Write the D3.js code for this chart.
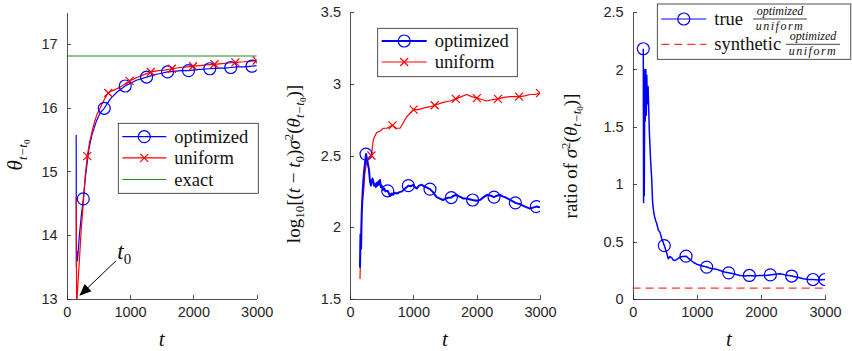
<!DOCTYPE html>
<html>
<meta charset="utf-8">
<style>
    body { margin: 0; background: #fff; }
    .tick text { font-family: 'Liberation Sans'; font-size: 14.5px; fill: #262626; }
    .axis path, .axis line { stroke: #262626; stroke-width: 0.8; shape-rendering: crispEdges; }
</style>
<body>
<script src="https://d3js.org/d3.v7.min.js"></script>
<script>

// ---- panel 1: theta_{t-t0}
var opt1T = [150,152,160,168,178,200,230,262,300,350,400,473,530,593,650,700,800,924,1000,1100,1261,1400,1500,1592,1700,1800,1923,2000,2100,2259,2400,2500,2590,2700,2800,2926,3000];
var opt1V = [15.57,13.5,13.75,13.6,13.7,14.0,14.3,14.57,14.95,15.35,15.58,15.8,15.92,15.99,16.08,16.15,16.25,16.34,16.38,16.43,16.48,16.52,16.54,16.56,16.57,16.58,16.58,16.59,16.6,16.61,16.62,16.62,16.63,16.64,16.64,16.65,16.66];
var opt1Marks = [262,593,924,1261,1592,1923,2259,2590,2926];

var uni1T = [150,157,175,200,230,262,290,325,360,400,440,473,520,560,600,656,700,760,820,900,993,1100,1200,1329,1450,1550,1660,1800,1900,1996,2100,2200,2333,2450,2550,2664,2800,2900,3000];
var uni1V = [14.6,12.9,13.2,13.6,14.1,14.5,14.9,15.24,15.45,15.62,15.78,15.88,15.98,16.06,16.14,16.23,16.26,16.28,16.31,16.36,16.42,16.47,16.51,16.56,16.58,16.59,16.61,16.63,16.64,16.65,16.66,16.67,16.68,16.69,16.7,16.71,16.72,16.73,16.74];
var uni1Marks = [325,656,993,1329,1660,1996,2333,2664,3000];

var exactV = 16.81;

// ---- panel 2: log10[(t-t0) sigma^2]
var opt2T = [158,165,175,185,200,220,253,275,300,316,330,340,355,368,380,395,408,421,435,450,462,474,487,500,521,540,560,595,615,632,655,679,710,742,780,821,870,921,960,1000,1025,1053,1090,1131,1200,1263,1310,1368,1420,1468,1540,1600,1640,1684,1720,1753,1790,1832,1937,2000,2053,2110,2163,2220,2274,2320,2368,2410,2447,2530,2611,2690,2763,2842,2942,3000];
var opt2V = [1.72,1.95,1.85,2.1,2.25,2.38,2.51,2.46,2.4,2.32,2.29,2.31,2.34,2.32,2.29,2.3,2.28,2.31,2.29,2.32,2.3,2.33,2.28,2.29,2.26,2.27,2.25,2.254,2.235,2.22,2.235,2.226,2.24,2.235,2.245,2.25,2.27,2.29,2.285,2.296,2.28,2.27,2.29,2.296,2.28,2.266,2.245,2.21,2.2,2.19,2.205,2.207,2.22,2.226,2.215,2.21,2.2,2.2,2.19,2.185,2.19,2.21,2.226,2.22,2.21,2.22,2.226,2.215,2.21,2.19,2.17,2.16,2.144,2.13,2.144,2.14];
var opt2Marks = [253,595,921,1263,1600,1937,2274,2611,2942];

var uni2T = [158,170,185,200,215,235,262,300,338,368,420,474,530,579,671,730,790,895,1004,1080,1158,1263,1337,1474,1579,1670,1760,1842,1921,2003,2080,2158,2250,2336,2430,2526,2669,2760,2842,2920,3000];
var uni2V = [1.64,1.9,2.1,2.2,2.25,2.38,2.45,2.49,2.5,2.61,2.66,2.67,2.69,2.69,2.71,2.69,2.69,2.77,2.82,2.82,2.83,2.84,2.85,2.87,2.88,2.895,2.91,2.925,2.91,2.9,2.89,2.88,2.89,2.895,2.905,2.91,2.91,2.915,2.925,2.925,2.935];
var uni2Marks = [338,671,1004,1337,1670,2003,2336,2669,3000];

// ---- panel 3: ratio of sigma^2
var opt3T = [165,170,175,180,190,195,205,212,220,228,240,260,280,296,310,322,340,360,374,400,426,450,470,493,520,540,556,580,608,630,660,700,738,780,832,880,945,1010,1076,1154,1200,1257,1300,1362,1430,1497,1570,1674,1750,1820,1900,1986,2060,2147,2220,2298,2380,2480,2570,2662,2740,2813,2900,3000];
var opt3V = [2.18,0.84,1.6,0.9,2.0,1.55,2.0,1.6,1.95,1.7,1.85,1.45,1.2,1.05,0.85,0.78,0.72,0.68,0.66,0.6,0.58,0.53,0.5,0.465,0.42,0.38,0.35,0.37,0.36,0.34,0.335,0.35,0.365,0.37,0.373,0.35,0.32,0.3,0.29,0.278,0.27,0.263,0.26,0.248,0.235,0.228,0.22,0.205,0.2,0.205,0.2,0.205,0.205,0.21,0.215,0.22,0.21,0.2,0.19,0.176,0.17,0.17,0.165,0.17];
var opt3Marks = [165,493,832,1154,1497,1820,2147,2480,2813,3000];
var synthV = 0.095;

var xTicks = [0,1000,2000,3000];
var yTicks1 = [13,14,15,16,17];
var yTicks2 = [1.5,2,2.5,3,3.5];
var yTicks3 = [0,0.5,1,1.5,2,2.5];

var BLUE = "#0000ff", RED = "#ff0000", GREEN = "#1f8a1f";

var svg = d3.select("body").append("svg")
    .attr("width", 852).attr("height", 351);

function zip(T, V) { return T.map(function(t, i) { return {t: t, v: V[i]}; }); }

function stext(x, y, size) {
    return svg.append("text").attr("x", x).attr("y", y)
        .style("font-family", "'Liberation Serif', serif").style("font-size", size + "px").attr("fill", "#111");
}

function panel(id, x0, x1, domY, ticksY) {
    var x = d3.scaleLinear().domain([0, 3000]).range([x0, x1]);
    var y = d3.scaleLinear().domain(domY).range([299, 12]);
    svg.append("clipPath").attr("id", id)
        .append("rect").attr("x", x0).attr("y", 12).attr("width", x1 - x0).attr("height", 287);
    svg.append("g").attr("class", "axis").attr("transform", "translate(0,299)")
        .call(d3.axisBottom(x).tickValues(xTicks).tickFormat(d3.format("~g"))
            .tickSizeInner(-4).tickSizeOuter(0).tickPadding(8));
    svg.append("g").attr("class", "axis").attr("transform", "translate(" + x0 + ",0)")
        .call(d3.axisLeft(y).tickValues(ticksY).tickFormat(d3.format("~g"))
            .tickSizeInner(-4).tickSizeOuter(0).tickPadding(9));
    stext((x0 + x1) / 2, 346, 21).attr("text-anchor", "middle")
        .style("font-style", "italic").text("t");
    return {x: x, y: y, g: svg.append("g").attr("clip-path", "url(#" + id + ")")};
}

function series(p, data, color, width) {
    var line = d3.line().x(function(d) { return p.x(d.t); }).y(function(d) { return p.y(d.v); });
    p.g.append("path").datum(data).attr("d", line)
        .attr("fill", "none").attr("stroke", color).attr("stroke-width", width)
        .attr("stroke-linejoin", "round");
}

function circles(p, data, marks, color) {
    p.g.selectAll(null).data(data.filter(function(d) { return marks.indexOf(d.t) >= 0; }))
        .enter().append("circle")
        .attr("cx", function(d) { return p.x(d.t); }).attr("cy", function(d) { return p.y(d.v); })
        .attr("r", 6).attr("fill", "none").attr("stroke", color).attr("stroke-width", 1.2);
}

function crosses(p, data, marks, color) {
    var s = 4;
    p.g.selectAll(null).data(data.filter(function(d) { return marks.indexOf(d.t) >= 0; }))
        .enter().append("path")
        .attr("d", function(d) {
            var cx = p.x(d.t), cy = p.y(d.v);
            return "M" + (cx - s) + "," + (cy - s) + "L" + (cx + s) + "," + (cy + s) +
                   "M" + (cx - s) + "," + (cy + s) + "L" + (cx + s) + "," + (cy - s);
        })
        .attr("stroke", color).attr("stroke-width", 1.2);
}

// legend helper: box + rows
function legend(bx, by, bw, bh, rows) {
    svg.append("rect").attr("x", bx).attr("y", by).attr("width", bw).attr("height", bh)
        .attr("fill", "#fff").attr("stroke", "#262626").attr("stroke-width", 0.8);
    rows.forEach(function(r) {
        svg.append("line").attr("x1", bx + 4).attr("x2", bx + r.len).attr("y1", r.y).attr("y2", r.y)
            .attr("stroke", r.color).attr("stroke-width", r.w || 1.2)
            .attr("stroke-dasharray", r.dash || null);
        var mx = bx + 4 + (r.len - 4) / 2;
        if (r.mark == "o") {
            svg.append("circle").attr("cx", mx).attr("cy", r.y).attr("r", 6)
                .attr("fill", "none").attr("stroke", r.color).attr("stroke-width", 1.2);
        } else if (r.mark == "x") {
            svg.append("path").attr("d", "M" + (mx - 4) + "," + (r.y - 4) + "L" + (mx + 4) + "," + (r.y + 4) +
                "M" + (mx - 4) + "," + (r.y + 4) + "L" + (mx + 4) + "," + (r.y - 4))
                .attr("stroke", r.color).attr("stroke-width", 1.2);
        }
        stext(bx + r.len + 8, r.y + 6, 18.5).text(r.label);
    });
}

function sub(t, txt, size, dy, italic) {
    t.append("tspan").attr("dy", dy).style("font-size", size + "px")
        .style("font-style", italic ? "italic" : "normal").text(txt);
}

// ---- panel 1
var p1 = panel("c1", 66.7, 256.7, [13, 17.5], yTicks1);
var opt1 = zip(opt1T, opt1V), uni1 = zip(uni1T, uni1V);
p1.g.append("line").attr("x1", p1.x(0)).attr("x2", p1.x(3000))
    .attr("y1", p1.y(exactV)).attr("y2", p1.y(exactV))
    .attr("stroke", GREEN).attr("stroke-width", 1);
series(p1, opt1, BLUE, 1.2);
series(p1, uni1, RED, 1.2);
circles(p1, opt1, opt1Marks, BLUE);
crosses(p1, uni1, uni1Marks, RED);

var yl1 = stext(0, 0, 20).attr("transform", "translate(22,155) rotate(-90)").attr("text-anchor", "middle");
sub(yl1, "θ", 21, 0, true);
sub(yl1, "t−t", 13, 5, true);
sub(yl1, "0", 9, 3, false);

// t0 annotation arrow
var tipX = p1.x(200), tipY = p1.y(13.05);
var tailX = p1.x(780), tailY = p1.y(13.6);
var ang = Math.atan2(tipY - tailY, tipX - tailX);
svg.append("line").attr("x1", tailX).attr("y1", tailY)
    .attr("x2", tipX - 10 * Math.cos(ang)).attr("y2", tipY - 10 * Math.sin(ang))
    .attr("stroke", "#000").attr("stroke-width", 1);
svg.append("path").attr("d", function() {
    var a = 12, w = 5;
    var bx = tipX - a * Math.cos(ang), by = tipY - a * Math.sin(ang);
    return "M" + tipX + "," + tipY +
        "L" + (bx + w * Math.sin(ang)) + "," + (by - w * Math.cos(ang)) +
        "L" + (bx - w * Math.sin(ang)) + "," + (by + w * Math.cos(ang)) + "Z";
}).attr("fill", "#000");
var t0 = stext(p1.x(800), p1.y(13.63), 22);
sub(t0, "t", 23, 0, true);
sub(t0, "0", 15, 5, false);

legend(118.3, 123.3, 140, 70, [
    {label: "optimized", color: BLUE, mark: "o", len: 48, y: 136.7},
    {label: "uniform", color: RED, mark: "x", len: 48, y: 157.8},
    {label: "exact", color: GREEN, len: 48, y: 179.5}
]);

// ---- panel 2
var p2 = panel("c2", 350, 540, [1.5, 3.5], yTicks2);
var opt2 = zip(opt2T, opt2V), uni2 = zip(uni2T, uni2V);
series(p2, uni2, RED, 1.2);
series(p2, opt2, BLUE, 2);
circles(p2, opt2, opt2Marks, BLUE);
crosses(p2, uni2, uni2Marks, RED);

var yl2 = stext(0, 0, 19).attr("transform", "translate(300,164) rotate(-90)").attr("text-anchor", "middle");
sub(yl2, "log", 19, 0, false);
sub(yl2, "10", 13, 4, false);
sub(yl2, "[(", 19, -4, false);
sub(yl2, "t", 19, 0, true);
sub(yl2, " − ", 19, 0, false);
sub(yl2, "t", 19, 0, true);
sub(yl2, "0", 13, 4, false);
sub(yl2, ")", 19, -4, false);
sub(yl2, "σ", 19, 0, true);
sub(yl2, "2", 13, -7, false);
sub(yl2, "(", 19, 7, false);
sub(yl2, "θ", 19, 0, true);
sub(yl2, "t−t", 13, 4, true);
sub(yl2, "0", 9, 2, false);
sub(yl2, ")]", 19, -6, false);

legend(377.7, 28.3, 139.6, 48.4, [
    {label: "optimized", color: BLUE, mark: "o", len: 49, y: 41, w: 2},
    {label: "uniform", color: RED, mark: "x", len: 49, y: 62}
]);

// ---- panel 3
var p3 = panel("c3", 632.7, 825, [0, 2.5], yTicks3);
var opt3 = zip(opt3T, opt3V);
p3.g.append("line").attr("x1", p3.x(0)).attr("x2", p3.x(3000))
    .attr("y1", p3.y(synthV)).attr("y2", p3.y(synthV))
    .attr("stroke", RED).attr("stroke-width", 1).attr("stroke-dasharray", "8,5");
series(p3, opt3, BLUE, 1.5);
circles(p3, opt3, opt3Marks, BLUE);

var yl3 = stext(0, 0, 19).attr("transform", "translate(577,156) rotate(-90)").attr("text-anchor", "middle");
sub(yl3, "ratio of ", 19, 0, false);
sub(yl3, "σ", 19, 0, true);
sub(yl3, "2", 13, -7, false);
sub(yl3, "(", 19, 7, false);
sub(yl3, "θ", 19, 0, true);
sub(yl3, "t−t", 13, 4, true);
sub(yl3, "0", 9, 2, false);
sub(yl3, ")]", 19, -6, false);

legend(657.3, 4, 193.5, 55.3, [
    {label: "true", color: BLUE, mark: "o", len: 49, y: 19},
    {label: "synthetic", color: RED, len: 49, y: 44.3, w: 1, dash: "8,5"}
]);
// fractions in legend 3
[{x: 780, y: 19}, {x: 813, y: 44.3}].forEach(function(f) {
    stext(f.x, f.y - 4, 12).attr("text-anchor", "middle").style("font-style", "italic")
        .text("optimized");
    svg.append("line").attr("x1", f.x - 27).attr("x2", f.x + 27).attr("y1", f.y).attr("y2", f.y)
        .attr("stroke", "#111").attr("stroke-width", 0.8);
    stext(f.x, f.y + 11, 12).attr("text-anchor", "middle").style("font-style", "italic")
        .style("letter-spacing", "1.5px").text("uniform");
});

</script>
</html>
